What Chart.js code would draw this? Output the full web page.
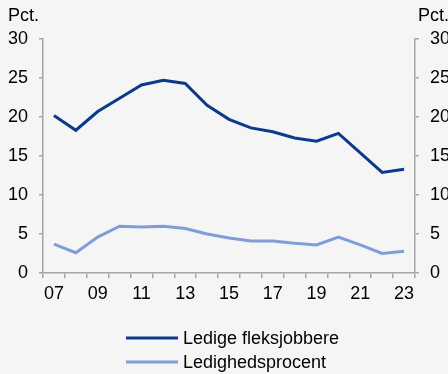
<!DOCTYPE html>
<html>
<head>
<meta charset="utf-8">
<script src="https://cdn.jsdelivr.net/npm/chart.js@4/dist/chart.umd.min.js"></script>
<style>
  html, body { margin: 0; padding: 0; background: #f5f5f5; }
  #wrap { position: relative; width: 448px; height: 374px; }
</style>
</head>
<body>
<div id="wrap"><canvas id="chart" width="448" height="374"></canvas></div>
<script>
const years = ['07', '08', '09', '10', '11', '12', '13', '14', '15', '16', '17', '18', '19', '20', '21', '22', '23'];
const fleksjobbere = [20.2, 18.3, 20.7, 22.4, 24.1, 24.7, 24.3, 21.5, 19.7, 18.6, 18.1, 17.3, 16.9, 17.9, 15.4, 12.9, 13.3];
const ledighed = [3.7, 2.6, 4.6, 6.0, 5.9, 6.0, 5.7, 5.0, 4.5, 4.1, 4.1, 3.8, 3.6, 4.6, 3.6, 2.5, 2.8];
const yTicks = [0, 5, 10, 15, 20, 25, 30];

const axisGrey = '#a6a6a6';
const font = { family: 'Liberation Sans, Arial, sans-serif', size: 18 };

// "Pct." above each y axis and the legend under the plot
const extras = {
  id: 'extras',
  afterDraw(chart) {
    const ctx = chart.ctx;
    const area = chart.chartArea;
    ctx.save();
    ctx.fillStyle = '#000';
    ctx.font = font.size + 'px ' + font.family;
    ctx.textBaseline = 'alphabetic';
    ctx.textAlign = 'left';
    ctx.fillText('Pct.', 8, 21);
    ctx.fillText('Pct.', area.right + 3, 21);

    const rows = [338, 362];
    chart.data.datasets.forEach((ds, i) => {
      ctx.strokeStyle = ds.borderColor;
      ctx.lineWidth = 3;
      ctx.beginPath();
      ctx.moveTo(126, rows[i]);
      ctx.lineTo(178, rows[i]);
      ctx.stroke();
      ctx.textBaseline = 'middle';
      ctx.fillText(ds.label, 183, rows[i] + 1);
    });
    ctx.restore();
  }
};

const yAxis = (position, width) => ({
  type: 'linear',
  position,
  min: 0,
  max: 30,
  afterBuildTicks(scale) { scale.ticks = yTicks.map((v) => ({ value: v })); },
  afterFit(scale) { scale.width = width; },
  ticks: { color: '#000', font, padding: 11 },
  grid: { drawOnChartArea: false, drawTicks: true, tickLength: 4, color: axisGrey, lineWidth: 1.5 },
  border: { color: axisGrey, width: 1.5 }
});

new Chart(document.getElementById('chart'), {
  type: 'line',
  data: {
    labels: years,
    datasets: [
      {
        label: 'Ledige fleksjobbere',
        data: fleksjobbere,
        borderColor: '#0b3a8d',
        borderWidth: 3,
        pointRadius: 0,
        tension: 0,
        yAxisID: 'y'
      },
      {
        label: 'Ledighedsprocent',
        data: ledighed,
        borderColor: '#7f9dd8',
        borderWidth: 3,
        pointRadius: 0,
        tension: 0,
        yAxisID: 'y2'
      }
    ]
  },
  options: {
    responsive: false,
    animation: false,
    layout: { padding: { top: 39, left: 0, right: 0, bottom: 0 } },
    scales: {
      x: {
        type: 'category',
        offset: true,
        afterFit(scale) { scale.height = 101; },
        ticks: {
          autoSkip: false,
          maxRotation: 0,
          color: '#000',
          font,
          padding: 5,
          callback(value, index) { return index % 2 === 0 ? years[index] : ''; }
        },
        grid: { offset: true, drawOnChartArea: false, tickLength: 5, color: axisGrey, lineWidth: 1.5 },
        border: { color: axisGrey, width: 1.5 }
      },
      y: yAxis('left', 43),
      y2: yAxis('right', 33)
    },
    plugins: {
      legend: { display: false },
      tooltip: { enabled: false }
    }
  },
  plugins: [extras]
});
</script>
</body>
</html>
